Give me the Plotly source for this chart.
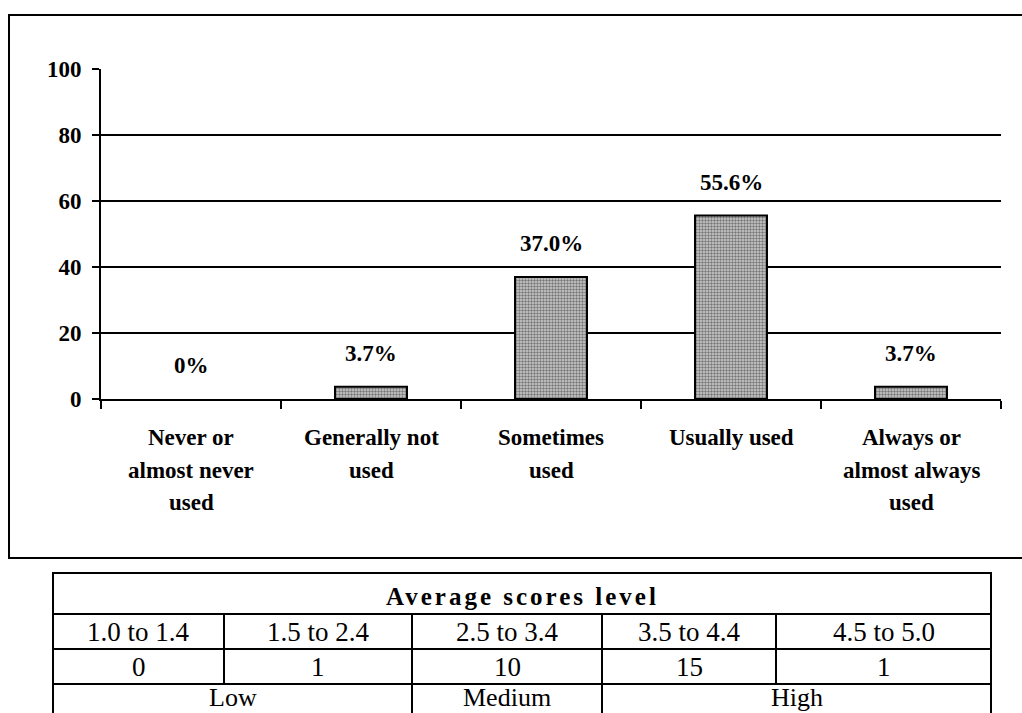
import plotly.graph_objects as go

# Usage categories (label lines separated by "\n") and share of respondents (%)
categories = [
    "Never or\nalmost never\nused",
    "Generally not\nused",
    "Sometimes\nused",
    "Usually used",
    "Always or\nalmost always\nused",
]
percentages = [0.0, 3.7, 37.0, 55.6, 3.7]
value_labels = ["0%", "3.7%", "37.0%", "55.6%", "3.7%"]
y_ticks = [0, 20, 40, 60, 80, 100]

# Score table below the chart
table_title = "Average scores level"
score_ranges = ["1.0 to 1.4", "1.5 to 2.4", "2.5 to 3.4", "3.5 to 4.4", "4.5 to 5.0"]
counts = [0, 1, 10, 15, 1]
levels = ["Low", "Medium", "High"]
level_spans = [2, 1, 2]  # number of score columns each level covers

W, H = 1022, 713
SERIF = "Liberation Serif, Times New Roman, serif"


def px(x):
    return x / W


def py(y):
    return 1 - y / H


def label(text, x, y, xref="paper", size=23, bold=False, **kw):
    body = f"<b>{text}</b>" if bold else text
    return dict(x=x, y=y, xref=xref, yref="paper", text=body, showarrow=False,
                xanchor="center", yanchor="middle",
                font=dict(family=SERIF, size=size, color="black"), **kw)


fig = go.Figure()
fig.add_trace(go.Bar(
    x=categories,
    y=percentages,
    width=0.4,
    marker=dict(
        color="#999999",
        line=dict(color="black", width=[2 if v > 0 else 0 for v in percentages]),
        pattern=dict(shape=".", fgcolor="#1e1e1e", bgcolor="#cfcfcf",
                     size=3, solidity=0.5),
    ),
    hoverinfo="skip",
))

annotations = []
# value labels above each bar
for cat, val, lab in zip(categories, percentages, value_labels):
    annotations.append(dict(
        x=cat, y=val, xref="x", yref="y", text=f"<b>{lab}</b>",
        showarrow=False, xanchor="center", yanchor="bottom", yshift=19,
        font=dict(family=SERIF, size=23, color="black"),
    ))
# category labels, one annotation per line for wide line spacing
for cat in categories:
    for i, line in enumerate(cat.split("\n")):
        annotations.append(label(line, cat, py(437 + 33 * i), xref="x", bold=True))

shapes = []
# outer chart frame
shapes.append(dict(type="rect", xref="paper", yref="paper",
                   x0=px(9), x1=px(1024), y0=py(558), y1=py(15),
                   line=dict(color="black", width=2)))

# table geometry
col_x = [53, 224, 412, 602, 776, 991]
row_y = [573, 614, 649, 684, 722]
line_style = dict(color="black", width=2)
shapes.append(dict(type="rect", xref="paper", yref="paper",
                   x0=px(col_x[0]), x1=px(col_x[-1]),
                   y0=py(row_y[-1]), y1=py(row_y[0]), line=line_style))
for yy in row_y[1:-1]:
    shapes.append(dict(type="line", xref="paper", yref="paper",
                       x0=px(col_x[0]), x1=px(col_x[-1]), y0=py(yy), y1=py(yy),
                       line=line_style))
for xx in col_x[1:-1]:
    shapes.append(dict(type="line", xref="paper", yref="paper",
                       x0=px(xx), x1=px(xx), y0=py(row_y[1]), y1=py(row_y[3]),
                       line=line_style))
# level row dividers
edge = 0
for span in level_spans[:-1]:
    edge += span
    shapes.append(dict(type="line", xref="paper", yref="paper",
                       x0=px(col_x[edge]), x1=px(col_x[edge]),
                       y0=py(row_y[3]), y1=py(row_y[4]), line=line_style))

annotations.append(label(
    f'<span style="letter-spacing:3px">{table_title}</span>',
    px((col_x[0] + col_x[-1]) / 2), py(596), size=25, bold=True))
for i, (rng, cnt) in enumerate(zip(score_ranges, counts)):
    cx = px((col_x[i] + col_x[i + 1]) / 2)
    annotations.append(label(rng, cx, py(632), size=27))
    annotations.append(label(str(cnt), cx, py(667), size=27))
start = 0
for lvl, span in zip(levels, level_spans):
    cx = px((col_x[start] + col_x[start + span]) / 2)
    annotations.append(label(lvl, cx, py(697), size=26))
    start += span

fig.update_layout(
    width=W, height=H,
    margin=dict(l=0, r=0, t=0, b=0, autoexpand=False),
    paper_bgcolor="white", plot_bgcolor="white",
    showlegend=False,
    annotations=annotations,
    shapes=shapes,
    xaxis=dict(
        domain=[px(101), px(1001)],
        showticklabels=False, automargin=False,
        ticks="outside", tickson="boundaries", ticklen=8, tickwidth=2, tickcolor="black",
        showline=True, linecolor="black", linewidth=2,
        showgrid=False, zeroline=False, fixedrange=True,
    ),
    yaxis=dict(
        domain=[py(399), py(69)],
        range=[0, 100], automargin=False,
        tickvals=y_ticks,
        ticktext=[f"<b>{v}</b>" for v in y_ticks],
        tickfont=dict(family=SERIF, size=23, color="black"),
        ticks="outside", ticklen=7, tickwidth=2, tickcolor="black",
        ticklabelstandoff=6,
        showline=True, linecolor="black", linewidth=2,
        showgrid=True, gridcolor="black", gridwidth=2,
        zeroline=False, fixedrange=True,
    ),
)

fig.write_html("out.html")
